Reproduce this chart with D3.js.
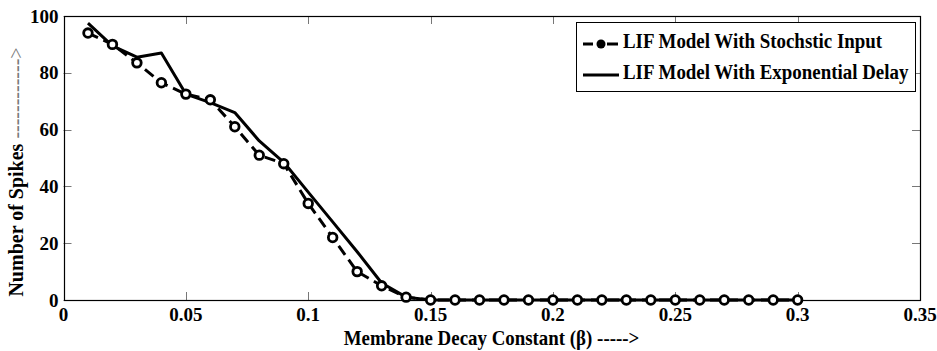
<!DOCTYPE html>
<html>
<head>
<meta charset="utf-8">
<script src="https://cdn.jsdelivr.net/npm/d3@7"></script>
<style>
  html, body { margin: 0; padding: 0; background: #fff; }
  svg { display: block; }
  text { font-family: "Liberation Serif", "Times New Roman", Times, serif; font-weight: bold; fill: #000; }
</style>
</head>
<body>
<script>
// ---- data ----
const beta = [0.01,0.02,0.03,0.04,0.05,0.06,0.07,0.08,0.09,0.10,
              0.11,0.12,0.13,0.14,0.15,0.16,0.17,0.18,0.19,0.20,
              0.21,0.22,0.23,0.24,0.25,0.26,0.27,0.28,0.29,0.30];
const stochasticSpikes = [94,90,83.5,76.5,72.5,70.5,61,51,48,34,
                          22,10,5,1,0,0,0,0,0,0,
                          0,0,0,0,0,0,0,0,0,0];
const exponentialSpikes = [97.5,89.5,85.5,87,72.5,69.5,66,56,48.5,38,
                           27.5,17,6,1,0,0,0,0,0,0,
                           0,0,0,0,0,0,0,0,0,0];
const xTicks = [0,0.05,0.1,0.15,0.2,0.25,0.3,0.35];
const xTickLabels = ["0","0.05","0.1","0.15","0.2","0.25","0.3","0.35"];
const yTicks = [0,20,40,60,80,100];
const seriesNames = ["LIF Model With Stochstic Input","LIF Model With Exponential Delay"];
const xTitle = "Membrane Decay Constant (\u03B2) ----->";
const yTitle = "Number of Spikes";
const yArrow = " ------------>";

// ---- layout ----
const W = 937, H = 351;
const L = 63.5, R = 920, T = 16, B = 300;

const svg = d3.select("body").append("svg").attr("width", W).attr("height", H);

const x = d3.scaleLinear().domain([0, 0.35]).range([L, R]);
const y = d3.scaleLinear().domain([0, 100]).range([B, T]);

// ticks (inside, mirrored)
const tickLen = 8;
const tg = svg.append("g").attr("stroke", "#777").attr("stroke-width", 1);
xTicks.forEach(v => {
  const px = Math.round(x(v)) + 0.5;
  tg.append("line").attr("x1", px).attr("x2", px).attr("y1", B).attr("y2", B - tickLen);
  tg.append("line").attr("x1", px).attr("x2", px).attr("y1", T).attr("y2", T + tickLen);
});
yTicks.forEach(v => {
  const py = Math.round(y(v)) + 0.5;
  tg.append("line").attr("x1", L).attr("x2", L + tickLen).attr("y1", py).attr("y2", py);
  tg.append("line").attr("x1", R).attr("x2", R - tickLen).attr("y1", py).attr("y2", py);
});

// frame
svg.append("rect").attr("x", Math.round(L) + 0.5).attr("y", T + 0.5)
  .attr("width", Math.round(R) - Math.round(L)).attr("height", B - T)
  .attr("fill", "none").attr("stroke", "#000").attr("stroke-width", 1.2);

// tick labels
xTicks.forEach((v, i) => {
  svg.append("text").attr("x", x(v)).attr("y", 321).attr("text-anchor", "middle")
    .attr("font-size", 19).text(xTickLabels[i]);
});
yTicks.forEach(v => {
  svg.append("text").attr("x", 58.5).attr("y", y(v) + 6.5).attr("text-anchor", "end")
    .attr("font-size", 19).text(v);
});

// axis titles
svg.append("text").attr("transform", `translate(${(343 + 640) / 2},345) scale(0.9,1)`)
  .attr("text-anchor", "middle").attr("font-size", 21).text(xTitle);
const yt = svg.append("text").attr("transform", "translate(23,172) rotate(-90)")
  .attr("text-anchor", "middle").attr("font-size", 20);
yt.append("tspan").text(yTitle);
yt.append("tspan").attr("font-weight", "normal").attr("fill", "#777").text(yArrow);

// series
const line = d3.line().x((d, i) => x(beta[i])).y(d => y(d));
const plot = svg.append("g");
plot.append("path").datum(exponentialSpikes).attr("d", line)
  .attr("fill", "none").attr("stroke", "#000").attr("stroke-width", 3).attr("stroke-linejoin", "round");
plot.append("path").datum(stochasticSpikes).attr("d", line)
  .attr("fill", "none").attr("stroke", "#000").attr("stroke-width", 3)
  .attr("stroke-dasharray", "11,6");
plot.selectAll("circle.m").data(stochasticSpikes).enter().append("circle")
  .attr("class", "m").attr("cx", (d, i) => x(beta[i])).attr("cy", d => y(d))
  .attr("r", 4.3).attr("fill", "#fff").attr("stroke", "#000").attr("stroke-width", 2.8);

// legend
const lg = svg.append("g");
lg.append("rect").attr("x", 576.5).attr("y", 22.5).attr("width", 339).attr("height", 69)
  .attr("fill", "#fff").attr("stroke", "#000").attr("stroke-width", 1);
lg.append("line").attr("x1", 583).attr("x2", 618).attr("y1", 44).attr("y2", 44)
  .attr("stroke", "#000").attr("stroke-width", 3).attr("stroke-dasharray", "10,14,11");
lg.append("circle").attr("cx", 601).attr("cy", 44).attr("r", 4.5).attr("fill", "#000");
lg.append("line").attr("x1", 583).attr("x2", 619).attr("y1", 75).attr("y2", 75)
  .attr("stroke", "#000").attr("stroke-width", 3);
[47.5, 78.5].forEach((by, i) => {
  lg.append("text").attr("transform", `translate(623,${by}) scale(0.86,1)`)
    .attr("font-size", 22).text(seriesNames[i]);
});
</script>
</body>
</html>
